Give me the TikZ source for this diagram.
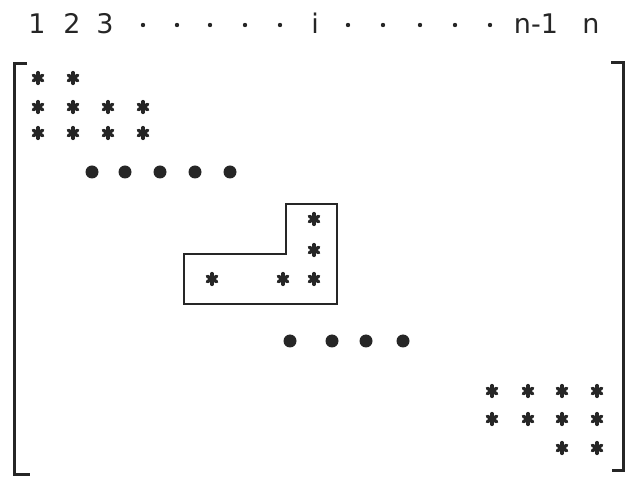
\documentclass[tikz,border=0pt]{standalone}
\usepackage{fontspec}
\setmainfont{DejaVu Sans}
\tikzset{
  starmark/.pic={\foreach \a in {90,30,150}{\draw[line width=3.4pt,line cap=round,black!85] (\a:5.4pt) -- (\a+180:5.4pt);}},
  bigdot/.style={fill=black!85,draw=none},
  bracket/.style={line width=3pt,black!85},
  lbl/.style={anchor=base,inner sep=0pt,font=\fontsize{27}{27}\selectfont,text=black!85},
  hdot/.style={fill=black!85,draw=none},
  lbox/.style={line width=2.6pt,black!85}
}
\begin{document}
\begin{tikzpicture}[x=1pt,y=-1pt]
\useasboundingbox (0,0) rectangle (638,478);
% header
\node[lbl] (c1) at (37,34) {1};
\node[lbl] (c2) at (72,34) {2};
\node[lbl] (c3) at (105,34) {3};
\foreach \x in {143,177,210,245,280,348,383,420,455,490}{\fill[hdot] (\x,25) circle (2.2pt);}
\node[lbl] (ci) at (315,34) {i};
\node[lbl] (cn1) at (536,34) {n-1};
\node[lbl] (cn) at (591,34) {n};
% brackets
\draw[bracket] (27,64) -- (14,64) -- (14,475) -- (30,475);
\draw[bracket] (611,63) -- (623,63) -- (623,471) -- (612,471);
% top-left stars
\foreach \x in {38,73}{\pic at (\x,78) {starmark};}
\foreach \y in {107,133}{\foreach \x in {38,73,108,143}{\pic at (\x,\y) {starmark};}}
% dots row 1
\foreach \x in {92,125,160,195,230}{\fill[bigdot] (\x,172) circle (6.5pt);}
% L-shaped box
\draw[lbox] (286,204) -- (337,204) -- (337,304) -- (184,304) -- (184,254) -- (286,254) -- cycle;
\pic at (314,219) {starmark};
\pic at (314,250) {starmark};
\foreach \x in {212,283,314}{\pic at (\x,279) {starmark};}
% dots row 2
\foreach \x in {290,332,366,403}{\fill[bigdot] (\x,341) circle (6.5pt);}
% bottom-right stars
\foreach \y in {391,419}{\foreach \x in {492,528,562,597}{\pic at (\x,\y) {starmark};}}
\foreach \x in {562,597}{\pic at (\x,448) {starmark};}
\end{tikzpicture}
\end{document}
